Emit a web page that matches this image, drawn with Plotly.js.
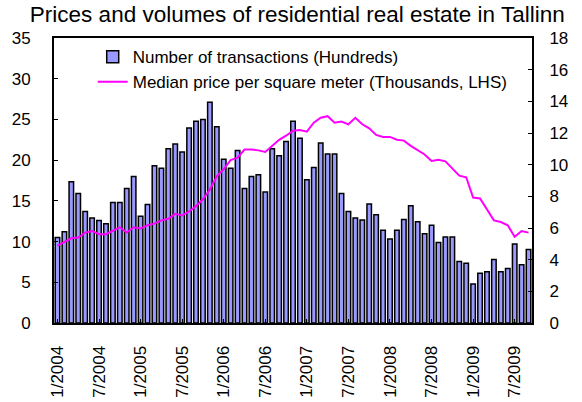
<!DOCTYPE html>
<html>
<head>
<meta charset="utf-8">
<script src="https://cdn.plot.ly/plotly-3.0.1.min.js"></script>
<style>
html,body{margin:0;padding:0;background:#fff;}
#chart{width:582px;height:402px;}
</style>
</head>
<body>
<div id="chart"></div>
<script>
// Monthly categories, January 2004 - September 2009
var years = [2004, 2005, 2006, 2007, 2008, 2009];
var months = [];
for (var yi = 0; yi < years.length; yi++) {
  for (var m = 1; m <= 12; m++) {
    if (years[yi] === 2009 && m > 9) break;
    months.push(m + "/" + years[yi]);
  }
}
var tickLabels = ["1/2004","7/2004","1/2005","7/2005","1/2006","7/2006","1/2007","7/2007","1/2008","7/2008","1/2009","7/2009"];

// Number of transactions (hundreds), right-hand scale
var transactions = [
  5.40, 5.76, 8.92, 8.18, 7.05, 6.63, 6.48, 6.27, 7.61, 7.61, 8.49, 9.26,
  6.74, 7.48, 9.93, 9.77, 11.01, 11.31, 10.80, 12.32, 12.75, 12.86, 13.94, 12.39,
  10.34, 9.77, 10.90, 8.49, 9.26, 9.36, 8.28, 11.01, 10.57, 11.47, 12.75, 11.67,
  9.05, 9.82, 11.37, 10.67, 10.67, 8.18, 7.05, 6.63, 6.51, 7.51, 6.84, 5.86,
  5.30, 5.86, 6.53, 7.41, 6.40, 5.64, 6.17, 5.09, 5.43, 5.43, 3.89, 3.78,
  2.47, 3.14, 3.24, 4.01, 3.24, 3.45, 4.99, 3.68, 4.65
];

// Median price per square meter (thousands), left-hand scale
var medianPrice = [
  9.5, 10.0, 10.4, 10.5, 11.1, 11.3, 10.9, 10.9, 11.3, 11.75, 11.1, 11.75,
  11.6, 12.0, 12.2, 12.6, 12.8, 13.4, 13.2, 13.7, 14.35, 15.2, 16.4, 18.0,
  18.9, 20.0, 20.3, 21.3, 21.3, 21.2, 21.0, 21.7, 22.5, 23.0, 23.6, 23.7,
  23.5, 24.6, 25.2, 25.4, 24.6, 24.75, 24.4, 25.2, 24.4, 23.9, 23.1, 22.85,
  22.85, 22.5, 22.4, 21.75, 21.2, 20.7, 19.9, 20.05, 19.85, 18.95, 18.1, 17.9,
  15.4, 15.3, 14.0, 12.6, 12.4, 12.0, 10.6, 11.3, 11.1
];

var fontFam = 'Arial, "Liberation Sans", sans-serif';

var traces = [
  {
    type: 'bar',
    name: 'Number of transactions (Hundreds)',
    x: months,
    y: transactions,
    yaxis: 'y',
    marker: {color: '#9999FF', line: {color: '#000000', width: 1.5}},
    hoverinfo: 'x+y'
  },
  {
    type: 'scatter',
    mode: 'lines',
    name: 'Median price per square meter (Thousands, LHS)',
    x: months,
    y: medianPrice,
    yaxis: 'y2',
    line: {color: '#FF00FF', width: 2},
    hoverinfo: 'x+y'
  }
];

var layout = {
  width: 582,
  height: 402,
  margin: {l: 54, r: 50, t: 38, b: 79, pad: 0},
  paper_bgcolor: '#ffffff',
  plot_bgcolor: '#ffffff',
  font: {family: fontFam, color: '#000000', size: 17},
  title: {
    text: 'Prices and volumes of residential real estate in Tallinn',
    font: {family: fontFam, size: 22.5, color: '#000000'},
    x: 0.509, xanchor: 'center',
    y: 0.985, yanchor: 'top',
    xref: 'paper'
  },
  showlegend: true,
  legend: {
    x: 0.081, xanchor: 'left',
    y: 0.996, yanchor: 'top',
    bgcolor: 'rgba(0,0,0,0)',
    borderwidth: 0,
    font: {family: fontFam, size: 17, color: '#000000'},
    traceorder: 'normal'
  },
  bargap: 0.35,
  xaxis: {
    type: 'category',
    range: [-0.5, months.length - 0.5],
    tickmode: 'array',
    tickvals: tickLabels,
    ticktext: tickLabels,
    tickangle: -90,
    ticks: 'inside',
    ticklen: 4,
    tickcolor: '#000000',
    showline: true,
    linecolor: '#000000',
    linewidth: 2,
    mirror: true,
    showgrid: false,
    zeroline: false,
    tickfont: {family: fontFam, size: 17},
    ticklabelstandoff: 14,
    fixedrange: true
  },
  yaxis: {
    side: 'right',
    range: [0, 18],
    dtick: 2,
    tick0: 0,
    ticks: 'inside',
    ticklen: 4,
    tickcolor: '#000000',
    showline: true,
    linecolor: '#000000',
    linewidth: 2,
    showgrid: false,
    zeroline: false,
    tickfont: {family: fontFam, size: 17},
    ticklabelstandoff: 12,
    fixedrange: true
  },
  yaxis2: {
    overlaying: 'y',
    side: 'left',
    range: [0, 35],
    dtick: 5,
    tick0: 0,
    ticks: 'inside',
    ticklen: 4,
    tickcolor: '#000000',
    showline: true,
    linecolor: '#000000',
    linewidth: 2,
    showgrid: false,
    zeroline: false,
    tickfont: {family: fontFam, size: 17},
    ticklabelstandoff: 18,
    fixedrange: true
  }
};

Plotly.newPlot('chart', traces, layout, {displayModeBar: false, staticPlot: true});
</script>
</body>
</html>
